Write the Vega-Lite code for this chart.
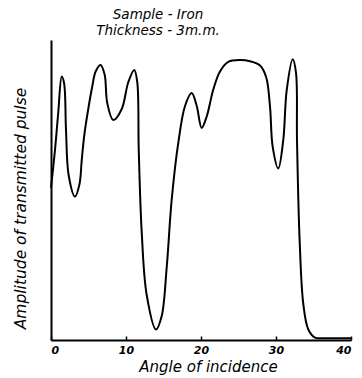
{
  "$schema": "https://vega.github.io/schema/vega-lite/v6.json",
  "autosize": "none",
  "width": 300,
  "height": 300,
  "padding": {"left": 51, "top": 40, "right": 11, "bottom": 38},
  "background": "white",
  "title": {
    "text": ["Sample - Iron", "Thickness - 3m.m."],
    "anchor": "middle",
    "dx": -43,
    "offset": 3,
    "font": "DejaVu Sans",
    "fontStyle": "italic",
    "fontWeight": "normal",
    "fontSize": 13.5,
    "lineHeight": 16,
    "color": "black"
  },
  "data": {
    "values": [
      {"angle": 0, "amp": 50.7},
      {"angle": 0.53, "amp": 63.3},
      {"angle": 0.97, "amp": 76},
      {"angle": 1.43, "amp": 87.8},
      {"angle": 1.75, "amp": 85.5},
      {"angle": 2.0, "amp": 70},
      {"angle": 2.35, "amp": 55},
      {"angle": 3.2, "amp": 47.8},
      {"angle": 3.8, "amp": 52},
      {"angle": 4.1, "amp": 60},
      {"angle": 4.45, "amp": 68.5},
      {"angle": 5.0, "amp": 77.5},
      {"angle": 5.5, "amp": 84.5},
      {"angle": 5.95, "amp": 89.5},
      {"angle": 6.6, "amp": 91.7},
      {"angle": 7.15, "amp": 88.5},
      {"angle": 7.5, "amp": 79},
      {"angle": 8.31, "amp": 73.3},
      {"angle": 9.43, "amp": 77},
      {"angle": 10.31, "amp": 86},
      {"angle": 11.1, "amp": 90},
      {"angle": 11.5, "amp": 86},
      {"angle": 11.7, "amp": 63.3},
      {"angle": 12.1, "amp": 35.7},
      {"angle": 12.76, "amp": 15},
      {"angle": 14.0, "amp": 3.5},
      {"angle": 14.76, "amp": 8},
      {"angle": 15.43, "amp": 24.3},
      {"angle": 16.09, "amp": 46.7},
      {"angle": 16.97, "amp": 65.7},
      {"angle": 17.87, "amp": 78},
      {"angle": 18.76, "amp": 82.3},
      {"angle": 19.43, "amp": 78},
      {"angle": 20.09, "amp": 70.7},
      {"angle": 20.76, "amp": 74.5},
      {"angle": 21.64, "amp": 83.5},
      {"angle": 22.53, "amp": 89.5},
      {"angle": 23.64, "amp": 92.7},
      {"angle": 25.2, "amp": 93.3},
      {"angle": 26.53, "amp": 92.9},
      {"angle": 27.87, "amp": 91.5},
      {"angle": 28.7, "amp": 87.5},
      {"angle": 29.2, "amp": 77.8},
      {"angle": 29.56, "amp": 64.4},
      {"angle": 30.31, "amp": 57.2},
      {"angle": 30.97, "amp": 66.7},
      {"angle": 31.43, "amp": 83.3},
      {"angle": 32.23, "amp": 93.6},
      {"angle": 32.67, "amp": 89},
      {"angle": 32.8, "amp": 66.7},
      {"angle": 33.15, "amp": 33.3},
      {"angle": 33.64, "amp": 12},
      {"angle": 34.31, "amp": 3.5},
      {"angle": 35.2, "amp": 0.8},
      {"angle": 36, "amp": 0.6},
      {"angle": 38, "amp": 0.6},
      {"angle": 40, "amp": 0.6}
    ]
  },
  "mark": {"type": "line", "color": "black", "strokeWidth": 2, "interpolate": "catmull-rom"},
  "encoding": {
    "x": {
      "field": "angle",
      "type": "quantitative",
      "scale": {"domain": [0, 40], "nice": false},
      "axis": {
        "title": "Angle  of  incidence",
        "values": [0, 10, 20, 30, 40],
        "grid": false,
        "domainColor": "black",
        "domainWidth": 2,
        "tickColor": "black",
        "tickSize": -4,
        "tickWidth": 1.5,
        "labelPadding": 8,
        "labelFont": "DejaVu Sans",
        "labelFontStyle": "italic",
        "labelFontWeight": "bold",
        "labelFontSize": 11,
        "labelColor": "black",
        "titleFont": "DejaVu Sans",
        "titleFontStyle": "italic",
        "titleFontWeight": "normal",
        "titleFontSize": 15,
        "titleColor": "black",
        "titlePadding": 4,
        "titleX": 157
      }
    },
    "y": {
      "field": "amp",
      "type": "quantitative",
      "scale": {"domain": [0, 100], "nice": false},
      "axis": {
        "title": "Amplitude  of  transmitted  pulse",
        "grid": false,
        "ticks": false,
        "labels": false,
        "domainColor": "black",
        "domainWidth": 2,
        "titleFont": "DejaVu Sans",
        "titleFontStyle": "italic",
        "titleFontWeight": "normal",
        "titleFontSize": 15.5,
        "titleColor": "black",
        "titlePadding": 23,
        "titleY": 168
      }
    }
  },
  "config": {"view": {"stroke": null}}
}
